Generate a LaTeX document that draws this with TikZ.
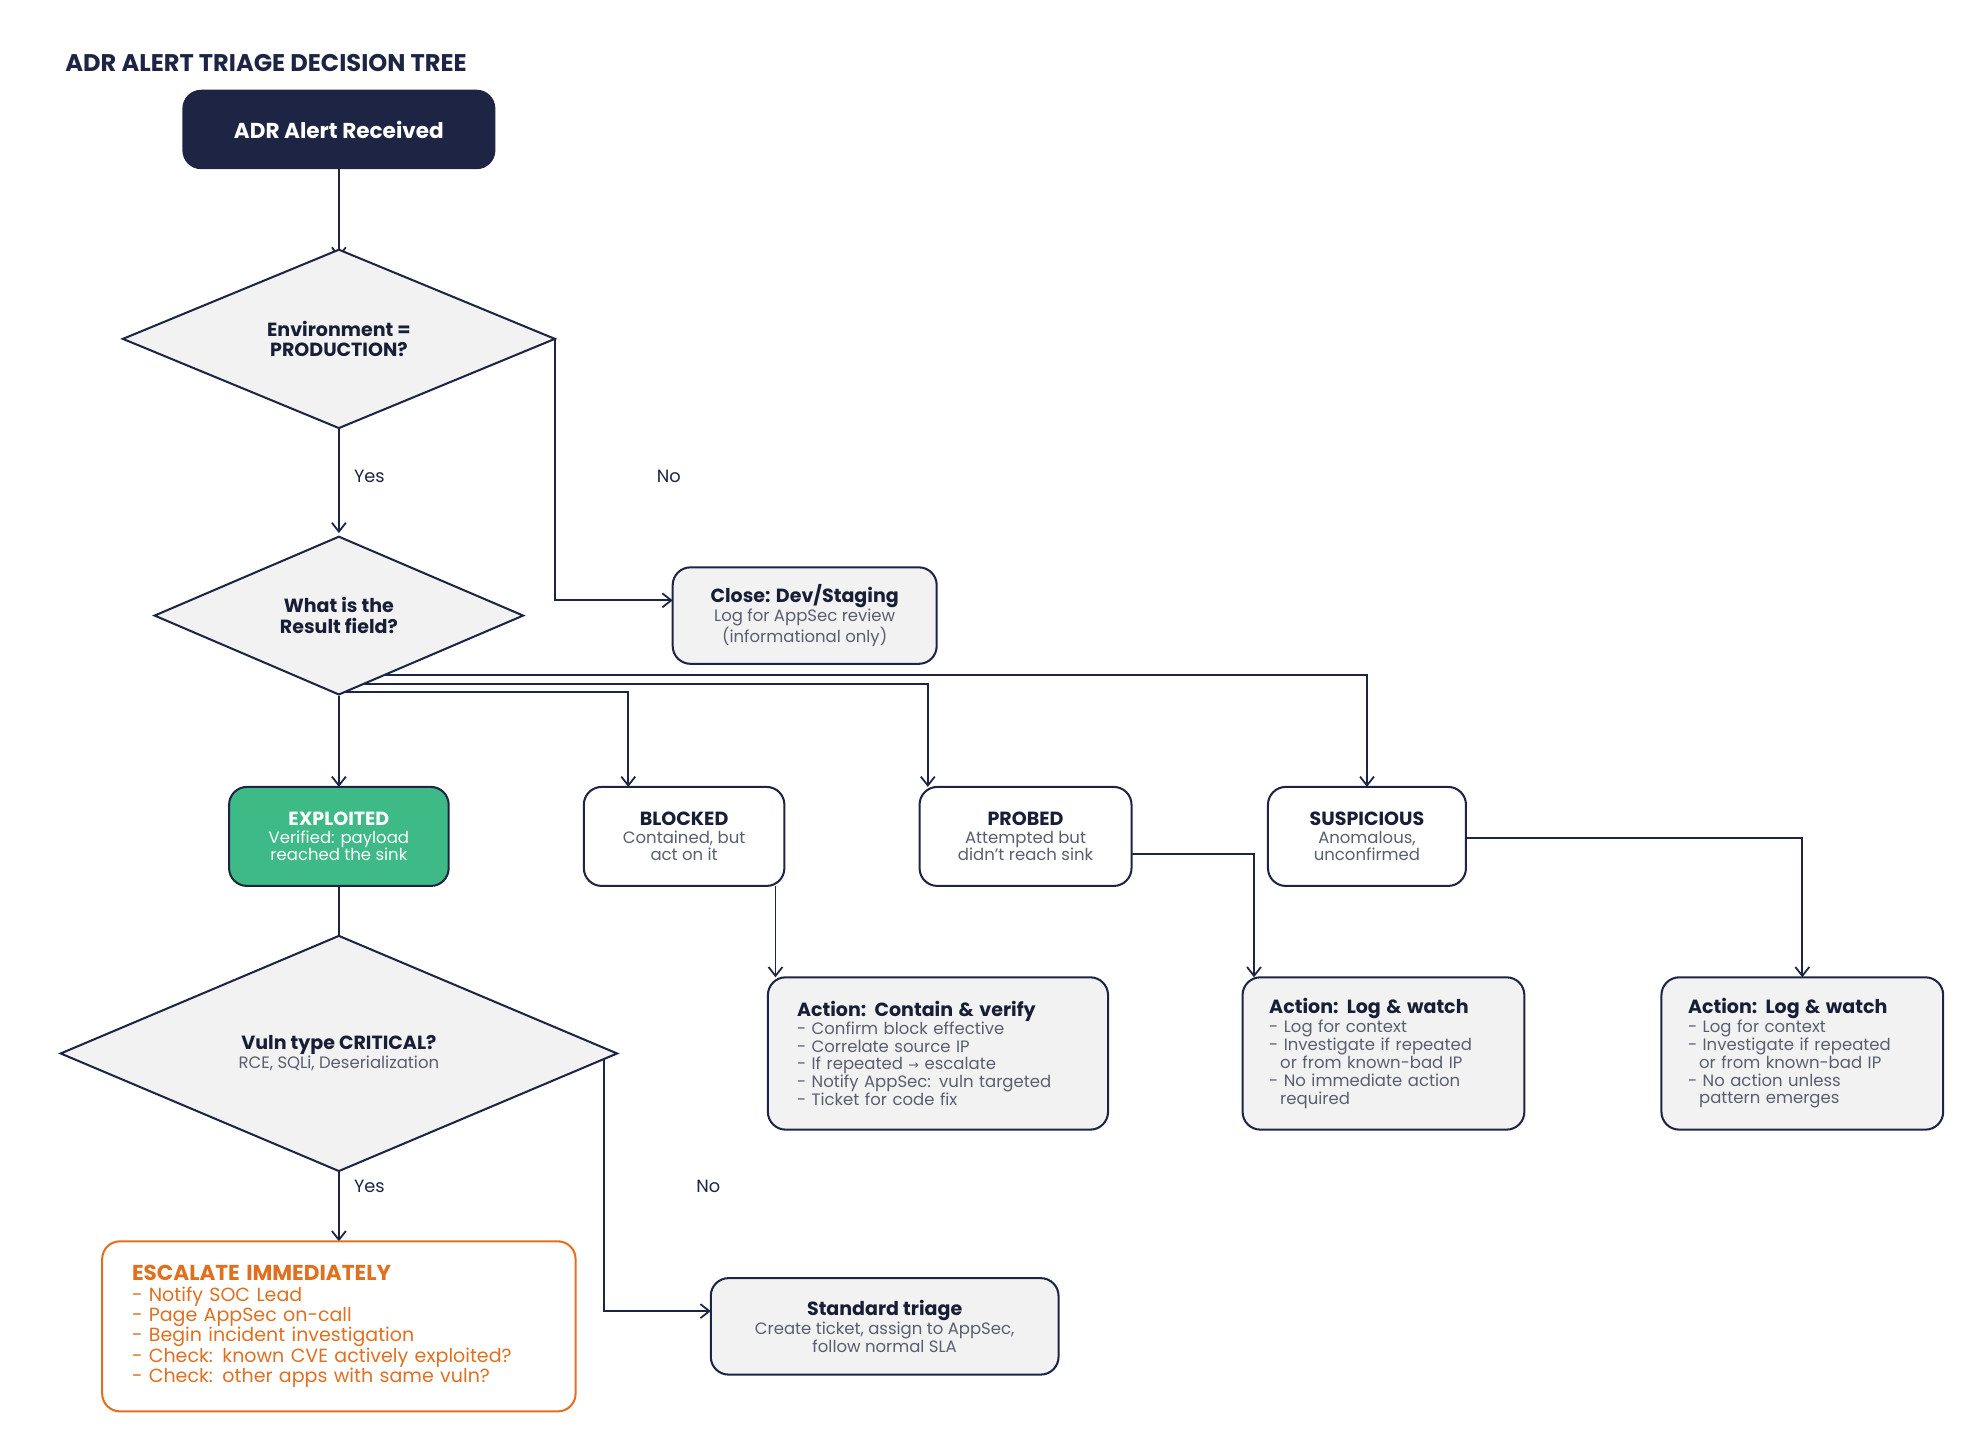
\documentclass[tikz,border=0pt]{standalone}
\usepackage{fontspec}
\setmainfont{Poppins}
\newfontfamily\djv{DejaVu Sans}
\usetikzlibrary{arrows.meta,shapes.geometric}
\definecolor{navy}{HTML}{1E2544}
\definecolor{grayfill}{HTML}{F2F2F2}
\definecolor{graytext}{HTML}{5A5F70}
\definecolor{green}{HTML}{3DBA85}
\definecolor{orange}{HTML}{E07020}
\newcommand\ttlf{\bfseries\fontsize{15}{16}\selectfont\color{navy!80!black}}
\begin{document}
\begin{tikzpicture}[x=1pt,y=-1pt,
  base/.style={draw=navy,line width=1.6pt,rounded corners=14pt,font=\fontsize{13}{14}\selectfont,align=center,inner sep=0pt},
  box/.style={base,fill=white,text=graytext},
  gbox/.style={base,fill=grayfill,text=graytext},
  act/.style={base,fill=grayfill,text=graytext,align=left,text width=#1},
  dia/.style={diamond,draw=navy,line width=1.6pt,fill=grayfill,font=\bfseries\fontsize{15}{16}\selectfont,text=navy!80!black,align=center,inner sep=0pt},
  arr/.style={draw=navy,line width=1.4pt,-{Straight Barb[length=7pt,width=11pt]}},
  lbl/.style={font=\fontsize{14}{15}\selectfont,text=navy}
]
\useasboundingbox (0,0) rectangle (1560,1142);
\node[anchor=west,font=\bfseries\fontsize{19}{20}\selectfont,text=navy] (title) at (48,50) {ADR ALERT TRIAGE DECISION TREE};

\draw[arr] (267,133) -- (267,203);
\draw[arr] (267,335) -- (267,420);
\draw[arr] (437,267) |- (530,473);
\draw[arr] (267,548) -- (267,620);
\draw[arr] (267,545) -| (495,620);
\draw[arr] (267,539) -| (731,620);
\draw[arr] (267,532) -| (1077,620);
\draw[arr] (611,698) -- (611,770);
\draw[arr] (880,673) -| (988,770);
\draw[arr] (1150,660) -| (1420,770);
\draw[arr] (267,698) -- (267,768);
\draw[arr] (267,893) -- (267,978);
\draw[arr] (476,835) |- (560,1033);
\node[lbl] (y1) at (291,375) {Yes};
\node[lbl] (n1) at (527,375) {No};
\node[lbl] (y2) at (291,935) {Yes};
\node[lbl] (n2) at (558,935) {No};

\node[base,fill=navy,text=white,font=\bfseries\fontsize{17}{18}\selectfont,minimum width=245pt,minimum height=61pt] (start) at (267,102) {ADR Alert Received};
\node[dia,minimum width=341pt,minimum height=125pt] (d1) at (267,267) {Environment =\\PRODUCTION?};
\node[dia,minimum width=291pt,minimum height=125pt] (d2) at (267,485) {What is the\\Result field?};
\node[gbox,minimum width=208pt,minimum height=76pt] (close) at (634,485) {{\ttlf Close: Dev/Staging}\\Log for AppSec review\\(informational only)};

\node[base,fill=green,text=white,minimum width=173pt,minimum height=78pt] (expl) at (267,659) {{\bfseries\fontsize{15}{16}\selectfont EXPLOITED}\\Verified: payload\\reached the sink};
\node[box,minimum width=158pt,minimum height=78pt] (blk) at (539,659) {{\ttlf BLOCKED}\\Contained, but\\act on it};
\node[box,minimum width=167pt,minimum height=78pt] (prb) at (808,659) {{\ttlf PROBED}\\Attempted but\\didn't reach sink};
\node[box,minimum width=156pt,minimum height=78pt] (sus) at (1077,659) {{\ttlf SUSPICIOUS}\\Anomalous,\\unconfirmed};

\node[act=222pt,minimum width=268pt,minimum height=120pt] (a1) at (739,830) {{\ttlf Action: Contain \& verify}\\- Confirm block effective\\- Correlate source IP\\- If repeated {\djv\fontsize{10}{14}\selectfont →} escalate\\- Notify AppSec: vuln targeted\\- Ticket for code fix};
\node[act=180pt,minimum width=222pt,minimum height=120pt] (a2) at (1090,830) {{\ttlf Action: Log \& watch}\\- Log for context\\- Investigate if repeated\\\ \ or from known-bad IP\\- No immediate action\\\ \ required};
\node[act=180pt,minimum width=222pt,minimum height=120pt] (a3) at (1420,830) {{\ttlf Action: Log \& watch}\\- Log for context\\- Investigate if repeated\\\ \ or from known-bad IP\\- No action unless\\\ \ pattern emerges};

\node[dia,minimum width=439pt,minimum height=120pt] (d3) at (267,830) {Vuln type CRITICAL?\\[-1pt]{\mdseries\fontsize{13}{14}\selectfont\color{graytext}RCE, SQLi, Deserialization}};

\node[base,draw=orange,fill=white,text=orange,align=left,text width=326pt,minimum width=373pt,minimum height=134pt,font=\fontsize{15}{16}\selectfont] (esc) at (267,1045) {{\bfseries\fontsize{17}{18}\selectfont ESCALATE IMMEDIATELY}\\- Notify SOC Lead\\- Page AppSec on-call\\- Begin incident investigation\\- Check: known CVE actively exploited?\\- Check: other apps with same vuln?};
\node[gbox,minimum width=274pt,minimum height=76pt] (std) at (697,1045) {{\ttlf Standard triage}\\Create ticket, assign to AppSec,\\follow normal SLA};
\end{tikzpicture}
\end{document}
